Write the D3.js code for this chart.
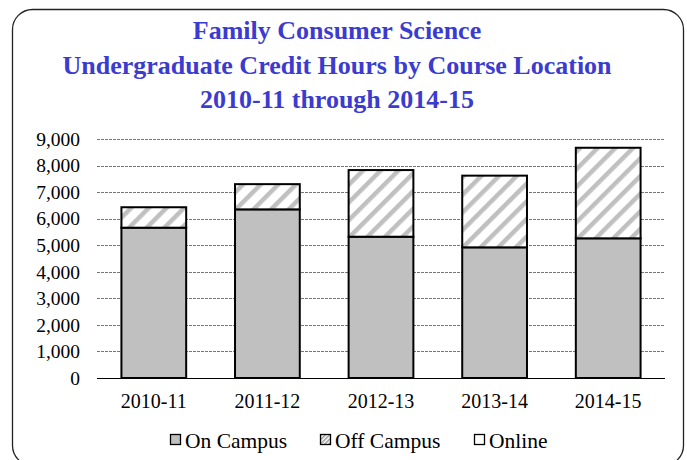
<!DOCTYPE html>
<html>
<head>
<meta charset="utf-8">
<script src="https://cdn.jsdelivr.net/npm/d3@7"></script>
<style>
  body { margin: 0; background: #fff; }
  svg text { font-family: "Liberation Serif", "Times New Roman", serif; }
</style>
</head>
<body>
<script>
// data
const years = ["2010-11", "2011-12", "2012-13", "2013-14", "2014-15"];
const onCampus = [5660, 6350, 5320, 4920, 5260];
const offCampus = [770, 950, 2510, 2700, 3410];
const online = [0, 0, 0, 0, 0];
const seriesNames = ["On Campus", "Off Campus", "Online"];
const yTicks = [0, 1000, 2000, 3000, 4000, 5000, 6000, 7000, 8000, 9000];
const titleLines = [
  "Family Consumer Science",
  "Undergraduate Credit Hours by Course Location",
  "2010-11 through 2014-15"
];

// layout
const width = 687;
const height = 460;
const plot = { left: 97, right: 665, top: 139, bottom: 378 };

const svg = d3.select("body")
  .append("svg")
  .attr("width", width)
  .attr("height", height);

// hatch pattern
const defs = svg.append("defs");
const pat = defs.append("pattern")
  .attr("id", "hatch")
  .attr("patternUnits", "userSpaceOnUse")
  .attr("width", 12.5)
  .attr("height", 12.5)
  .attr("patternTransform", "rotate(45)");
pat.append("rect").attr("width", 12.5).attr("height", 12.5).attr("fill", "#fff");
pat.append("rect").attr("x", 0).attr("width", 4.5).attr("height", 12.5).attr("fill", "#c0c0c0");

const patSmall = defs.append("pattern")
  .attr("id", "hatchSmall")
  .attr("patternUnits", "userSpaceOnUse")
  .attr("width", 3)
  .attr("height", 3)
  .attr("patternTransform", "rotate(45)");
patSmall.append("rect").attr("width", 3).attr("height", 3).attr("fill", "#fff");
patSmall.append("rect").attr("width", 1.5).attr("height", 3).attr("fill", "#999");

// frame
svg.append("rect")
  .attr("x", 12.5)
  .attr("y", 9.5)
  .attr("width", 671)
  .attr("height", 456)
  .attr("rx", 20)
  .attr("fill", "#fff")
  .attr("stroke", "#222")
  .attr("stroke-width", 1.3);

// title
svg.append("g")
  .selectAll("text")
  .data(titleLines)
  .enter()
  .append("text")
  .attr("x", 337)
  .attr("y", (d, i) => 39 + i * 34.5)
  .attr("text-anchor", "middle")
  .attr("font-size", 26)
  .attr("font-weight", "bold")
  .attr("fill", "#3b3bcf")
  .text((d) => d);

// scales
const x = d3.scaleBand()
  .domain(years)
  .range([plot.left, plot.right])
  .paddingInner(0.43)
  .paddingOuter(0.215);

const y = d3.scaleLinear()
  .domain([0, 9000])
  .range([plot.bottom, plot.top]);

// gridlines
svg.append("g")
  .selectAll("line")
  .data(yTicks.filter((d) => d > 0))
  .enter()
  .append("line")
  .attr("x1", plot.left)
  .attr("x2", plot.right)
  .attr("y1", (d) => Math.round(y(d)) + 0.5)
  .attr("y2", (d) => Math.round(y(d)) + 0.5)
  .attr("stroke", "#777")
  .attr("stroke-width", 1)
  .attr("stroke-dasharray", "3,1");

// y axis labels
const yAxis = d3.axisLeft(y)
  .tickValues(yTicks)
  .tickSize(0)
  .tickPadding(0)
  .tickFormat(d3.format(","));

const yG = svg.append("g")
  .attr("transform", `translate(80,0)`)
  .call(yAxis);
yG.select(".domain").remove();
yG.selectAll("text")
  .attr("font-size", 19.5)
  .attr("fill", "#000")
  .style("font-family", "'Liberation Serif', serif");

// stacked bars
const rows = years.map((yr, i) => ({
  year: yr,
  "On Campus": onCampus[i],
  "Off Campus": offCampus[i],
  "Online": online[i]
}));
const stacked = d3.stack().keys(seriesNames)(rows);
const fills = { "On Campus": "#c0c0c0", "Off Campus": "url(#hatch)", "Online": "#fff" };

svg.append("g")
  .selectAll("g")
  .data(stacked)
  .enter()
  .append("g")
  .attr("fill", (s) => fills[s.key])
  .selectAll("rect")
  .data((s) => s.filter((d) => d[1] - d[0] > 0))
  .enter()
  .append("rect")
  .attr("x", (d) => x(d.data.year))
  .attr("width", x.bandwidth())
  .attr("y", (d) => y(d[1]))
  .attr("height", (d) => y(d[0]) - y(d[1]))
  .attr("stroke", "#000")
  .attr("stroke-width", 2);

// zero line
svg.append("line")
  .attr("x1", plot.left)
  .attr("x2", plot.right)
  .attr("y1", y(0) + 0.5)
  .attr("y2", y(0) + 0.5)
  .attr("stroke", "#000")
  .attr("stroke-width", 1.2);

// x axis labels
const xAxis = d3.axisBottom(x).tickSize(0).tickPadding(0);
const xG = svg.append("g")
  .attr("transform", `translate(0,${plot.bottom + 30})`)
  .call(xAxis);
xG.select(".domain").remove();
xG.selectAll("text")
  .attr("dy", 0)
  .attr("font-size", 20)
  .attr("fill", "#000")
  .style("font-family", "'Liberation Serif', serif");

// legend
const legendX = [170.5, 320.5, 474.5];
const legendFills = ["#c0c0c0", "url(#hatchSmall)", "#fff"];
const legend = svg.append("g");
const items = legend.selectAll("g")
  .data(seriesNames)
  .enter()
  .append("g")
  .attr("transform", (d, i) => `translate(${legendX[i]}, 434.5)`);
items.append("rect")
  .attr("x", 0)
  .attr("y", 0)
  .attr("width", 10)
  .attr("height", 10)
  .attr("fill", (d, i) => legendFills[i])
  .attr("stroke", "#000")
  .attr("stroke-width", 1.3);
items.append("text")
  .attr("x", 14.5)
  .attr("y", 13)
  .attr("font-size", 21.5)
  .attr("fill", "#000")
  .text((d) => d);
</script>
</body>
</html>
